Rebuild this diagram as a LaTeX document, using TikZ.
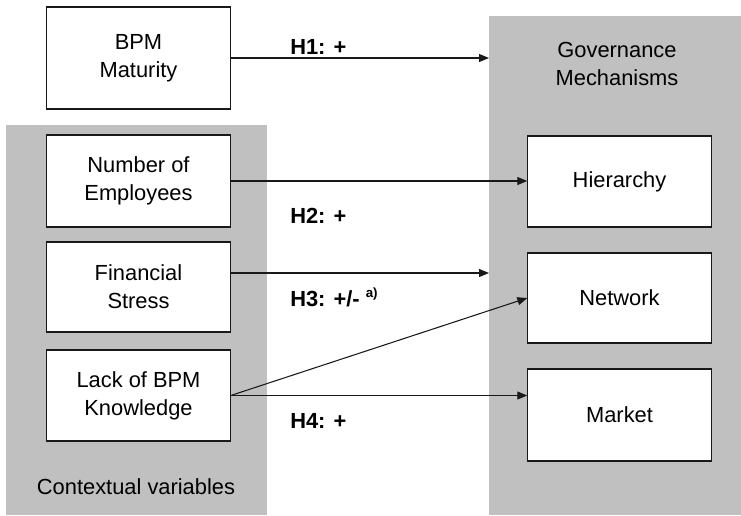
\documentclass[tikz,border=0pt]{standalone}
\usepackage{fontspec}
\setmainfont{Liberation Sans}
\usetikzlibrary{arrows.meta,calc}
\definecolor{panelgray}{RGB}{192,192,192}
\definecolor{linegray}{RGB}{25,25,25}
\newcommand{\boxfont}{\fontsize{16.4}{20.8}\selectfont}
\tikzset{
  panel/.style={fill=panelgray, draw=none, inner sep=0pt, anchor=north west},
  box/.style={draw=linegray, fill=white, line width=0.8pt, inner sep=0pt,
    minimum width=137.5pt, align=center, font=\boxfont},
  lab/.style={font=\boxfont\bfseries, anchor=base west, inner sep=0pt},
  ptext/.style={font=\boxfont, align=center, inner sep=0pt},
  arr/.style={draw=linegray, line width=0.8pt, -{Triangle[length=7.5pt,width=6pt]}},
  ln/.style={draw=linegray, line width=0.8pt}
}
\begin{document}
\begin{tikzpicture}[x=0.75pt,y=-0.75pt]
\useasboundingbox (0,0) rectangle (741,515);
% panels
\node[panel, minimum width=195.75pt, minimum height=292.5pt] (ctx) at (6,125) {};
\node[panel, minimum width=189pt, minimum height=374.25pt] (gov) at (489,16) {};
\node[ptext] (govtext) at (617,64) {Governance\\Mechanisms};
\node[ptext, anchor=base] (ctxtext) at (136,494) {Contextual variables};
% left boxes
\node[box, minimum height=76.5pt] (bpm) at (138.5,58) {BPM\\Maturity};
\node[box, minimum height=69pt] (emp) at (138.5,181) {Number of\\Employees};
\node[box, minimum height=67.5pt] (fin) at (138.5,287) {Financial\\Stress};
\node[box, minimum height=68.25pt] (lack) at (138.5,395.5) {Lack of BPM\\Knowledge};
% right boxes
\node[box, minimum height=68.25pt] (hier) at (619.5,181.5) {Hierarchy};
\node[box, minimum height=67.5pt] (net) at (619.5,298) {Network};
\node[box, minimum height=69pt] (mkt) at (619.5,415) {Market};
% connectors
\coordinate (finout) at ([yshift=10.5pt]fin.east);
\draw[arr] (bpm.east) -- (bpm.east -| gov.west);
\draw[arr] (emp.east) -- (emp.east -| hier.west);
\draw[arr] (finout) -- (finout -| gov.west);
\draw[arr] (lack.east) -- (net.west);
\draw[arr] (lack.east) -- (lack.east -| mkt.west);
% labels
\node[lab] (h1) at (290,54) {H1: +};
\node[lab] (h2) at (290,223) {H2: +};
\node[lab] (h3) at (290,306) {H3: +/- \raisebox{6.5pt}{\fontsize{10}{11}\selectfont\bfseries a)}};
\node[lab] (h4) at (290,428) {H4: +};
\end{tikzpicture}
\end{document}
